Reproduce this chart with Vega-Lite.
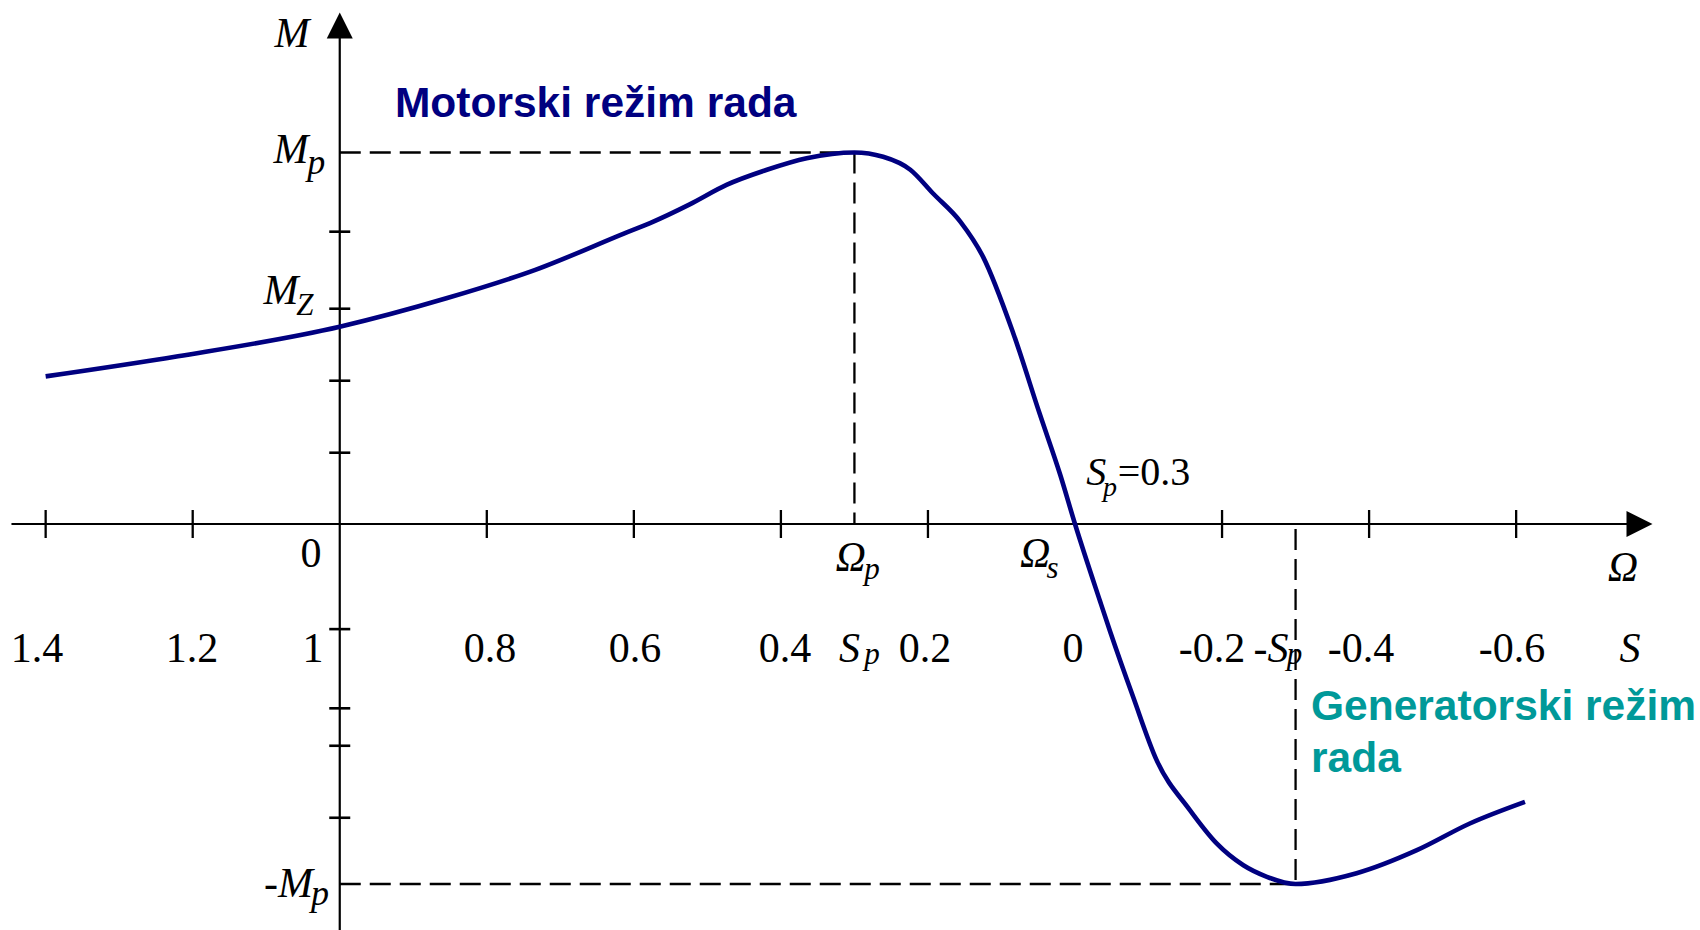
{
  "$schema": "https://vega.github.io/schema/vega-lite/v6.json",
  "width": 1700,
  "height": 930,
  "autosize": {"type": "none"},
  "padding": 0,
  "background": "white",
  "config": {"view": {"stroke": null}},
  "datasets": {
    "curve": [
      {"s": 1.40, "m": 2.05}, {"s": 1.22, "m": 2.33}, {"s": 1.0, "m": 2.74}, {"s": 0.855, "m": 3.135},
      {"s": 0.734, "m": 3.53}, {"s": 0.612, "m": 4.04}, {"s": 0.578, "m": 4.18}, {"s": 0.524, "m": 4.44},
      {"s": 0.474, "m": 4.71}, {"s": 0.419, "m": 4.92}, {"s": 0.365, "m": 5.08}, {"s": 0.30, "m": 5.16},
      {"s": 0.261, "m": 5.10}, {"s": 0.224, "m": 4.92}, {"s": 0.193, "m": 4.59}, {"s": 0.156, "m": 4.20},
      {"s": 0.125, "m": 3.71}, {"s": 0.084, "m": 2.65}, {"s": 0.048, "m": 1.53}, {"s": 0.020, "m": 0.68},
      {"s": 0.0, "m": 0.0}, {"s": -0.034, "m": -1.07}, {"s": -0.048, "m": -1.50}, {"s": -0.079, "m": -2.40},
      {"s": -0.111, "m": -3.28}, {"s": -0.156, "m": -3.97}, {"s": -0.193, "m": -4.44}, {"s": -0.229, "m": -4.74},
      {"s": -0.261, "m": -4.90}, {"s": -0.30, "m": -5.0}, {"s": -0.383, "m": -4.85}, {"s": -0.465, "m": -4.53},
      {"s": -0.537, "m": -4.16}, {"s": -0.612, "m": -3.86}
    ],
    "guides": [
      {"s": 1.0, "s2": 0.3, "m": 5.16, "m2": 5.16},
      {"s": 0.3, "s2": 0.3, "m": 5.16, "m2": 0.0},
      {"s": 1.0, "s2": -0.3, "m": -5.0, "m2": -5.0},
      {"s": -0.3, "s2": -0.3, "m": -0.07, "m2": -5.0}
    ],
    "axisLines": [
      {"s": 1.4465, "s2": -0.7521, "m": 0.0, "m2": 0.0},
      {"s": 1.0, "s2": 1.0, "m": -5.64, "m2": 6.75}
    ],
    "sTicks": [
      {"s": 1.4, "m": 0}, {"s": 1.2, "m": 0}, {"s": 0.8, "m": 0}, {"s": 0.6, "m": 0}, {"s": 0.4, "m": 0},
      {"s": 0.2, "m": 0}, {"s": -0.2, "m": 0}, {"s": -0.4, "m": 0}, {"s": -0.6, "m": 0}
    ],
    "mTicks": [
      {"s": 1, "m": 0.99}, {"s": 1, "m": 1.99}, {"s": 1, "m": 2.99}, {"s": 1, "m": 4.06},
      {"s": 1, "m": -1.46}, {"s": 1, "m": -2.56}, {"s": 1, "m": -3.08}, {"s": 1, "m": -4.08}
    ],
    "uprightLabels": [
      {"t": "0", "s": 1.0391, "m": -0.5931},
      {"t": "1.4", "s": 1.4118, "m": -1.9125},
      {"t": "1.2", "s": 1.2010, "m": -1.9125},
      {"t": "1", "s": 1.0364, "m": -1.9125},
      {"t": "0.8", "s": 0.7957, "m": -1.9125},
      {"t": "0.6", "s": 0.5984, "m": -1.9125},
      {"t": "0.4", "s": 0.3944, "m": -1.9125},
      {"t": "0.2", "s": 0.2040, "m": -1.9125},
      {"t": "0", "s": 0.0027, "m": -1.9125},
      {"t": "-0.2", "s": -0.1863, "m": -1.9125},
      {"t": "-0.4", "s": -0.3890, "m": -1.9125},
      {"t": "-0.6", "s": -0.5944, "m": -1.9125}
    ],
    "italicLabels": [
      {"t": "M", "s": 1.0649, "m": 6.625},
      {"t": "M", "s": 1.0663, "m": 5.0097},
      {"t": "M", "s": 1.0799, "m": 3.0556},
      {"t": "-M", "s": 1.0698, "m": -5.1764},
      {"t": "S", "s": 0.3067, "m": -1.9125},
      {"t": "-S", "s": -0.2666, "m": -1.9125},
      {"t": "S", "s": -0.7548, "m": -1.9125},
      {"t": "Ω", "s": -0.7453, "m": -0.7875},
      {"t": "Ω", "s": 0.3051, "m": -0.6486},
      {"t": "Ω", "s": 0.0540, "m": -0.6014}
    ],
    "largeSubscripts": [
      {"t": "p", "s": 1.0319, "m": 4.861},
      {"t": "p", "s": 1.0269, "m": -5.2986}
    ],
    "smallSubscripts": [
      {"t": "Z", "s": 1.0473, "m": 2.9028},
      {"t": "p", "s": 0.2761, "m": -1.9444},
      {"t": "p", "s": -0.2985, "m": -1.9444},
      {"t": "p", "s": 0.2761, "m": -0.7639},
      {"t": "s", "s": 0.0306, "m": -0.75}
    ]
  },
  "encoding": {
    "x": {"field": "s", "type": "quantitative", "axis": null,
          "scale": {"domain": [1.46209, -0.85005], "nice": false, "zero": false}},
    "y": {"field": "m", "type": "quantitative", "axis": null,
          "scale": {"domain": [-5.63889, 7.27778], "nice": false, "zero": false}}
  },
  "layer": [
    {
      "data": {"name": "guides"},
      "mark": {"type": "rule", "color": "black", "strokeWidth": 2.3, "strokeDash": [21, 9]},
      "encoding": {"x2": {"field": "s2"}, "y2": {"field": "m2"}}
    },
    {
      "data": {"name": "axisLines"},
      "mark": {"type": "rule", "color": "black", "strokeWidth": 2.2},
      "encoding": {"x2": {"field": "s2"}, "y2": {"field": "m2"}}
    },
    {
      "data": {"values": [{"s": -0.7678, "m": 0}]},
      "mark": {"type": "point", "shape": "M-1,-1L1,0L-1,1Z", "size": 676, "filled": true,
               "color": "black", "opacity": 1, "strokeWidth": 0}
    },
    {
      "data": {"values": [{"s": 1.0, "m": 6.9236}]},
      "mark": {"type": "point", "shape": "M-1,1L0,-1L1,1Z", "size": 676, "filled": true,
               "color": "black", "opacity": 1, "strokeWidth": 0}
    },
    {
      "data": {"name": "sTicks"},
      "mark": {"type": "tick", "orient": "vertical", "size": 28, "thickness": 2.3, "color": "black", "opacity": 1}
    },
    {
      "data": {"name": "mTicks"},
      "mark": {"type": "tick", "orient": "horizontal", "size": 21, "thickness": 2.6, "color": "black", "opacity": 1}
    },
    {
      "data": {"name": "curve"},
      "mark": {"type": "line", "color": "#000080", "strokeWidth": 4.6, "interpolate": "monotone"}
    },
    {
      "data": {"name": "uprightLabels"},
      "mark": {"type": "text", "font": "Liberation Serif", "fontSize": 42, "align": "center",
               "baseline": "alphabetic", "color": "black"},
      "encoding": {"text": {"field": "t", "type": "nominal"}}
    },
    {
      "data": {"name": "italicLabels"},
      "mark": {"type": "text", "font": "Liberation Serif", "fontStyle": "italic", "fontSize": 42,
               "align": "center", "baseline": "alphabetic", "color": "black"},
      "encoding": {"text": {"field": "t", "type": "nominal"}}
    },
    {
      "data": {"name": "largeSubscripts"},
      "mark": {"type": "text", "font": "Liberation Serif", "fontStyle": "italic", "fontSize": 36,
               "align": "center", "baseline": "alphabetic", "color": "black"},
      "encoding": {"text": {"field": "t", "type": "nominal"}}
    },
    {
      "data": {"name": "smallSubscripts"},
      "mark": {"type": "text", "font": "Liberation Serif", "fontStyle": "italic", "fontSize": 31,
               "align": "center", "baseline": "alphabetic", "color": "black"},
      "encoding": {"text": {"field": "t", "type": "nominal"}}
    },
    {
      "data": {"values": [{"t": "S", "s": -0.0290, "m": 0.5417}]},
      "mark": {"type": "text", "font": "Liberation Serif", "fontStyle": "italic", "fontSize": 40,
               "align": "center", "baseline": "alphabetic", "color": "black"},
      "encoding": {"text": {"field": "t", "type": "nominal"}}
    },
    {
      "data": {"values": [{"t": "p", "s": -0.0476, "m": 0.3889}]},
      "mark": {"type": "text", "font": "Liberation Serif", "fontStyle": "italic", "fontSize": 28,
               "align": "center", "baseline": "alphabetic", "color": "black"},
      "encoding": {"text": {"field": "t", "type": "nominal"}}
    },
    {
      "data": {"values": [{"t": "=0.3", "s": -0.1074, "m": 0.5417}]},
      "mark": {"type": "text", "font": "Liberation Serif", "fontSize": 40,
               "align": "center", "baseline": "alphabetic", "color": "black"},
      "encoding": {"text": {"field": "t", "type": "nominal"}}
    },
    {
      "data": {"values": [{"t": "Motorski režim rada", "s": 0.9249, "m": 5.6569}]},
      "mark": {"type": "text", "font": "Liberation Sans", "fontWeight": "bold", "fontSize": 42.5,
               "align": "left", "baseline": "alphabetic", "color": "#000080"},
      "encoding": {"text": {"field": "t", "type": "nominal"}}
    },
    {
      "data": {"values": [
        {"t": "Generatorski režim", "s": -0.3210, "m": -2.7222},
        {"t": "rada", "s": -0.3210, "m": -3.4403}
      ]},
      "mark": {"type": "text", "font": "Liberation Sans", "fontWeight": "bold", "fontSize": 42.5,
               "align": "left", "baseline": "alphabetic", "color": "#009999"},
      "encoding": {"text": {"field": "t", "type": "nominal"}}
    }
  ]
}
